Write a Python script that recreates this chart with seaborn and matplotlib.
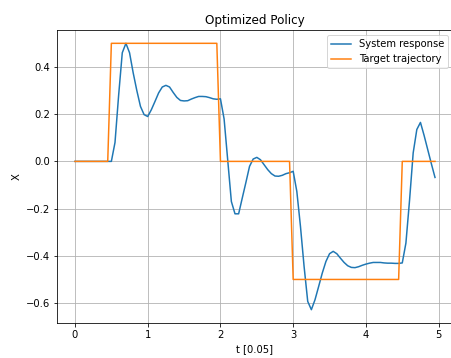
import numpy as np
import pandas as pd
import matplotlib
matplotlib.use("Agg")
import matplotlib.pyplot as plt
import seaborn as sns

# time axis in steps of 0.05
t = np.round(np.arange(100) * 0.05, 2)

system_response = [
    0.0, 0.0, 0.0, 0.0, 0.0, 0.0, 0.0, 0.0, 0.0, 0.0,
    0.0, 0.08, 0.28, 0.46, 0.50, 0.46, 0.375, 0.30, 0.233, 0.198,
    0.19, 0.219, 0.254, 0.29, 0.315, 0.322, 0.315, 0.292, 0.271, 0.258,
    0.256, 0.257, 0.264, 0.27, 0.275, 0.275, 0.274, 0.27, 0.265, 0.263,
    0.265, 0.18, 0.005, -0.17, -0.222, -0.222, -0.155, -0.089, -0.021, 0.010,
    0.017, 0.007, -0.014, -0.035, -0.052, -0.062, -0.063, -0.059, -0.052, -0.048,
    -0.042, -0.127, -0.275, -0.445, -0.593, -0.628, -0.586, -0.53, -0.473, -0.424,
    -0.391, -0.381, -0.391, -0.41, -0.428, -0.442, -0.449, -0.45, -0.446, -0.44,
    -0.435, -0.431, -0.428, -0.428, -0.428, -0.43, -0.431, -0.431, -0.432, -0.432,
    -0.43, -0.346, -0.165, 0.036, 0.135, 0.165, 0.11, 0.05, -0.01, -0.068,
]

target_trajectory = (
    [0.0] * 10 + [0.5] * 30 + [0.0] * 20 + [-0.5] * 30 + [0.0] * 10
)

df = pd.DataFrame({"t": t, "system": system_response, "target": target_trajectory})

fig = plt.figure(figsize=(451 / 72, 358 / 72), dpi=72)
ax = fig.add_axes([57 / 451, 35 / 358, 396 / 451, 293 / 358])

sns.lineplot(data=df, x="t", y="system", ax=ax, color="#1f77b4",
             linewidth=1.5, label="System response")
sns.lineplot(data=df, x="t", y="target", ax=ax, color="#ff7f0e",
             linewidth=1.5, label="Target trajectory")

ax.grid(True, color="#b0b0b0", linewidth=0.8)
ax.set_axisbelow(True)
ax.spines["right"].set_visible(False)
ax.set_title("Optimized Policy", fontsize=12)
ax.set_xlabel("t [0.05]", fontsize=10)
ax.set_ylabel("X", fontsize=10)
ax.tick_params(labelsize=10)
ax.legend(loc="upper right", fontsize=10)

fig.savefig("out.png", dpi=72)
